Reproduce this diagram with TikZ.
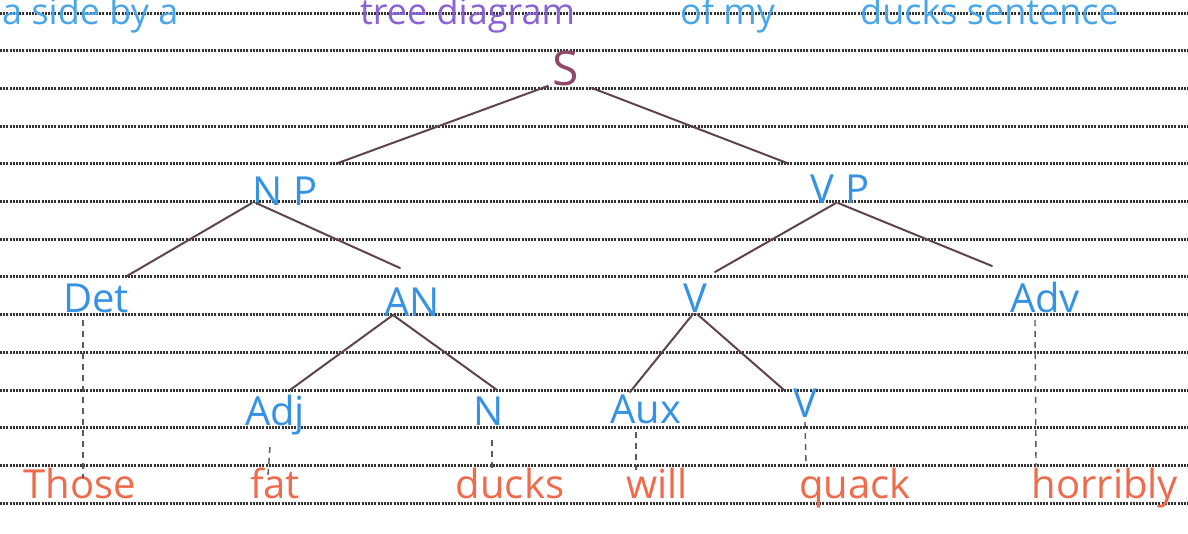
\documentclass[tikz,border=0pt]{standalone}
\usepackage{fontspec}
\setmainfont{Open Sans}
\definecolor{labblue}{HTML}{3592E4}
\definecolor{wordred}{HTML}{F06A4C}
\definecolor{branch}{HTML}{5E4450}
\definecolor{sred}{HTML}{8E4868}
\definecolor{topblue}{HTML}{4AA6EA}
\definecolor{toppurple}{HTML}{8A62D8}
\definecolor{rule}{HTML}{5A5A5A}
\definecolor{paperrule}{HTML}{333333}
\tikzset{
  lab/.style={text=labblue, anchor=base, inner sep=0pt, font=\fontsize{40}{44}\selectfont},
  word/.style={text=wordred, anchor=base, inner sep=0pt, font=\fontsize{40}{44}\selectfont},
  branchline/.style={draw=branch, line width=2pt, line cap=round},
  dashline/.style={draw=rule, line width=1.4pt, dash pattern=on 6pt off 5pt},
  ruleline/.style={draw=paperrule, line width=3pt, dash pattern=on 2pt off 1.2pt},
  toptext/.style={anchor=base west, inner sep=0pt, font=\fontsize{36}{40}\selectfont}
}
\begin{document}
\begin{tikzpicture}[x=1pt,y=-1pt]
\clip (0,0) rectangle (1188,533);
\fill[white] (0,0) rectangle (1188,533);
% ruled paper
\foreach \k in {0,...,13} {
  \draw[ruleline] (0,{13+37.7*\k}) -- (1188,{13+37.7*\k});
}
% heading text, cut by the top edge as in the scan
\node[toptext, text=topblue] (h1) at (2,24) {a side by a};
\node[toptext, text=toppurple] (h2) at (360,24) {tree diagram};
\node[toptext, text=topblue] (h3) at (680,24) {of my};
\node[toptext, text=topblue] (h4) at (860,24) {ducks sentence};
% tree labels
\node[lab, text=sred, font=\fontsize{48}{52}\selectfont] (S) at (566,85) {S};
\node[lab] (NP) at (285,205) {N P};
\node[lab] (VP) at (840,203) {V P};
\node[lab] (Det) at (96,312) {Det};
\node[lab] (AN) at (412,316) {AN};
\node[lab] (V) at (695,312) {V};
\node[lab] (Adv) at (1045,312) {Adv};
\node[lab] (Adj) at (275,425) {Adj};
\node[lab] (N) at (489,425) {N};
\node[lab] (Aux) at (646,423) {Aux};
\node[lab] (V2) at (805,417) {V};
% words
\node[word] (w1) at (80,498) {Those};
\node[word] (w2) at (275,498) {fat};
\node[word] (w3) at (510,498) {ducks};
\node[word] (w4) at (657,498) {will};
\node[word] (w5) at (855,498) {quack};
\node[word] (w6) at (1105,498) {horribly};
% branches
\draw[branchline] ([shift={(-18,1)}]S.base) -- ([shift={(53,-42)}]NP.base);
\draw[branchline] ([shift={(26,3)}]S.base) -- ([shift={(-53,-40)}]VP.base);
\draw[branchline] ([shift={(-33,-2)}]NP.base) -- ([shift={(31,-36)}]Det.base);
\draw[branchline] ([shift={(-29,-2)}]NP.base) -- ([shift={(-12,-48)}]AN.base);
\draw[branchline] ([shift={(-4,0)}]VP.base) -- ([shift={(20,-40)}]V.base);
\draw[branchline] ([shift={(-2,0)}]VP.base) -- ([shift={(-53,-46)}]Adv.base);
\draw[branchline] ([shift={(-19,-1)}]AN.base) -- ([shift={(15,-35)}]Adj.base);
\draw[branchline] ([shift={(-19,-1)}]AN.base) -- ([shift={(8,-35)}]N.base);
\draw[branchline] ([shift={(-2,2)}]V.base) -- ([shift={(-16,-31)}]Aux.base);
\draw[branchline] ([shift={(2,2)}]V.base) -- ([shift={(-21,-27)}]V2.base);
% dashed lexical links
\draw[dashline] ([shift={(-13,8)}]Det.base) -- ([shift={(3,-20)}]w1.base);
\draw[dashline] ([shift={(-5,22)}]Adj.base) -- ([shift={(-7,-23)}]w2.base);
\draw[dashline] ([shift={(3,15)}]N.base) -- ([shift={(-18,-30)}]w3.base);
\draw[dashline] ([shift={(-10,9)}]Aux.base) -- ([shift={(-21,-28)}]w4.base);
\draw[dashline] ([shift={(0,5)}]V2.base) -- ([shift={(-49,-33)}]w5.base);
\draw[dashline] ([shift={(-10,8)}]Adv.base) -- ([shift={(-69,-33)}]w6.base);
\end{tikzpicture}
\end{document}
